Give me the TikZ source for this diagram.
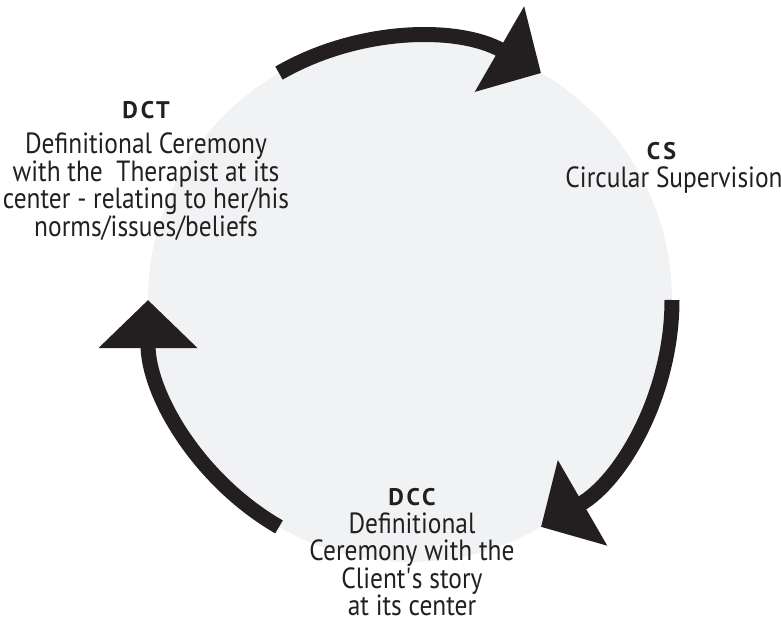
\documentclass[tikz,border=0pt]{standalone}
\usepackage{fontspec}
\setmainfont{PT Sans}[FakeStretch=0.87]
\newfontfamily\headfamily{PT Sans}[LetterSpace=12]
\usetikzlibrary{arrows.meta,positioning}
\definecolor{ringgrey}{HTML}{F1F2F4}
\definecolor{inkblack}{HTML}{231F20}
\newcommand{\stagefont}{\fontsize{14.6}{13.8}\selectfont\lineskiplimit=-20pt}
\newcommand{\stagehead}[1]{{\headfamily\fontsize{12}{13.8}\selectfont\bfseries #1}}
\tikzset{
  ring/.style  = {circle, fill=ringgrey, minimum size=262pt, inner sep=0pt, outer sep=0pt},
  cyc/.style   = {draw=inkblack, line width=7.5pt, -{Triangle[length=24pt, width=48pt]}},
  stage/.style = {align=center, inner sep=0pt, text=inkblack, font=\stagefont, anchor=north},
}
\begin{document}
\begin{tikzpicture}[x=0.5pt, y=0.5pt]
  \useasboundingbox (-410,-321) rectangle (371,300);
  \node[ring] (ring) at (0,0) {};
  % arrows round the ring, clockwise
  \draw[cyc] (ring.120) arc[start angle=120, end angle=60, radius=131pt];
  \draw[cyc] (ring.0) arc[start angle=0, end angle=-60, radius=131pt];
  \draw[cyc] (ring.240) arc[start angle=240, end angle=180, radius=131pt];
  \node[stage] (dct) at (-264,199) {\stagehead{DCT}\\[3.7pt] Definitional Ceremony\\ with the\ \ Therapist at its\\ center - relating to her/his\\ norms/issues/beliefs};
  \node[stage] (cs) at (264,158) {\stagehead{CS}\hspace*{12.5pt}\\ Circular Supervision};
  \node[stage] (dcc) at (2,-188) {\stagehead{DCC}\\ Definitional\\ Ceremony with the\\ Client\textquotesingle s story\\ at its center};
\end{tikzpicture}
\end{document}
